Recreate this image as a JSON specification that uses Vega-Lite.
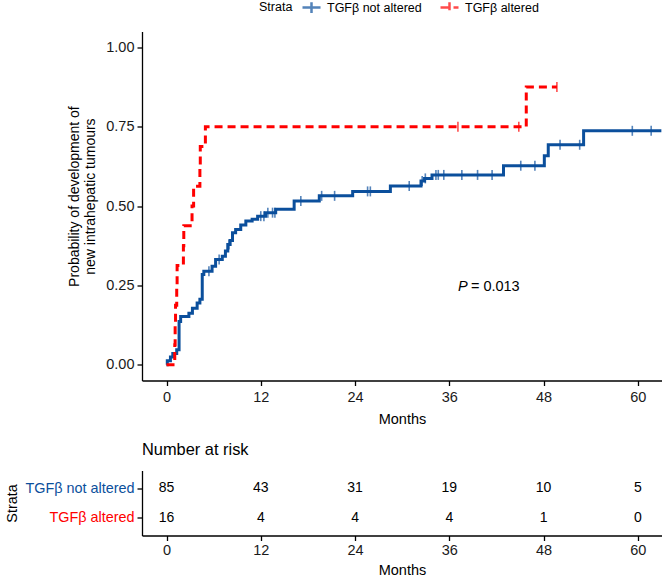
{
  "$schema": "https://vega.github.io/schema/vega-lite/v6.json",
  "padding": {"left": 4, "top": -3.5, "right": 0, "bottom": 0},
  "config": {
    "font": "Liberation Sans",
    "view": {"stroke": null},
    "axis": {"grid": false, "domainColor": "black", "domainWidth": 1.3, "tickColor": "black", "tickWidth": 1.3, "tickSize": 5, "labelColor": "#1a1a1a", "labelFontSize": 14.5, "titleFontSize": 14.5, "titleFontWeight": "normal", "titleColor": "black", "labelPadding": 3, "titlePadding": 8}
  },
  "datasets": {
    "curves": [
      {"group": "TGFβ not altered", "month": 0, "prob": 0},
      {"group": "TGFβ not altered", "month": 0.1, "prob": 0.012},
      {"group": "TGFβ not altered", "month": 0.5, "prob": 0.024},
      {"group": "TGFβ not altered", "month": 0.8, "prob": 0.035},
      {"group": "TGFβ not altered", "month": 1.3, "prob": 0.047},
      {"group": "TGFβ not altered", "month": 1.6, "prob": 0.136},
      {"group": "TGFβ not altered", "month": 1.8, "prob": 0.152},
      {"group": "TGFβ not altered", "month": 2.85, "prob": 0.162},
      {"group": "TGFβ not altered", "month": 3.3, "prob": 0.178},
      {"group": "TGFβ not altered", "month": 3.9, "prob": 0.194},
      {"group": "TGFβ not altered", "month": 4.25, "prob": 0.206},
      {"group": "TGFβ not altered", "month": 4.55, "prob": 0.284},
      {"group": "TGFβ not altered", "month": 4.75, "prob": 0.294},
      {"group": "TGFβ not altered", "month": 5.8, "prob": 0.31},
      {"group": "TGFβ not altered", "month": 6.25, "prob": 0.331},
      {"group": "TGFβ not altered", "month": 7.1, "prob": 0.342},
      {"group": "TGFβ not altered", "month": 7.5, "prob": 0.358},
      {"group": "TGFβ not altered", "month": 7.8, "prob": 0.379},
      {"group": "TGFβ not altered", "month": 8.1, "prob": 0.391},
      {"group": "TGFβ not altered", "month": 8.4, "prob": 0.416},
      {"group": "TGFβ not altered", "month": 8.8, "prob": 0.426},
      {"group": "TGFβ not altered", "month": 9.45, "prob": 0.44},
      {"group": "TGFβ not altered", "month": 10.1, "prob": 0.453},
      {"group": "TGFβ not altered", "month": 10.9, "prob": 0.458},
      {"group": "TGFβ not altered", "month": 11.6, "prob": 0.468},
      {"group": "TGFβ not altered", "month": 12.6, "prob": 0.479},
      {"group": "TGFβ not altered", "month": 13.9, "prob": 0.49},
      {"group": "TGFβ not altered", "month": 16.25, "prob": 0.516},
      {"group": "TGFβ not altered", "month": 19.45, "prob": 0.532},
      {"group": "TGFβ not altered", "month": 23.7, "prob": 0.546},
      {"group": "TGFβ not altered", "month": 28.5, "prob": 0.563},
      {"group": "TGFβ not altered", "month": 32.4, "prob": 0.579},
      {"group": "TGFβ not altered", "month": 32.85, "prob": 0.587},
      {"group": "TGFβ not altered", "month": 33.8, "prob": 0.598},
      {"group": "TGFβ not altered", "month": 42.9, "prob": 0.627},
      {"group": "TGFβ not altered", "month": 48.1, "prob": 0.658},
      {"group": "TGFβ not altered", "month": 48.6, "prob": 0.693},
      {"group": "TGFβ not altered", "month": 53.1, "prob": 0.737},
      {"group": "TGFβ not altered", "month": 63.0, "prob": 0.737},
      {"group": "TGFβ altered", "month": 0, "prob": 0},
      {"group": "TGFβ altered", "month": 1.05, "prob": 0.0625},
      {"group": "TGFβ altered", "month": 1.1, "prob": 0.125},
      {"group": "TGFβ altered", "month": 1.15, "prob": 0.1875},
      {"group": "TGFβ altered", "month": 1.3, "prob": 0.25},
      {"group": "TGFβ altered", "month": 1.35, "prob": 0.3125},
      {"group": "TGFβ altered", "month": 2.15, "prob": 0.375},
      {"group": "TGFβ altered", "month": 2.2, "prob": 0.4375},
      {"group": "TGFβ altered", "month": 3.25, "prob": 0.5},
      {"group": "TGFβ altered", "month": 3.45, "prob": 0.5625},
      {"group": "TGFβ altered", "month": 4.25, "prob": 0.625},
      {"group": "TGFβ altered", "month": 4.3, "prob": 0.6875},
      {"group": "TGFβ altered", "month": 4.95, "prob": 0.75},
      {"group": "TGFβ altered", "month": 45.8, "prob": 0.875},
      {"group": "TGFβ altered", "month": 49.7, "prob": 0.875}
    ],
    "censor": [
      {"group": "TGFβ not altered", "month": 5.4, "prob": 0.294},
      {"group": "TGFβ not altered", "month": 6.7, "prob": 0.331},
      {"group": "TGFβ not altered", "month": 7.95, "prob": 0.379},
      {"group": "TGFβ not altered", "month": 12.0, "prob": 0.468},
      {"group": "TGFβ not altered", "month": 12.4, "prob": 0.468},
      {"group": "TGFβ not altered", "month": 12.9, "prob": 0.479},
      {"group": "TGFβ not altered", "month": 13.5, "prob": 0.479},
      {"group": "TGFβ not altered", "month": 13.8, "prob": 0.479},
      {"group": "TGFβ not altered", "month": 17.1, "prob": 0.516},
      {"group": "TGFβ not altered", "month": 19.75, "prob": 0.532},
      {"group": "TGFβ not altered", "month": 21.4, "prob": 0.532},
      {"group": "TGFβ not altered", "month": 25.6, "prob": 0.546},
      {"group": "TGFβ not altered", "month": 25.95, "prob": 0.546},
      {"group": "TGFβ not altered", "month": 30.9, "prob": 0.563},
      {"group": "TGFβ not altered", "month": 32.55, "prob": 0.579},
      {"group": "TGFβ not altered", "month": 32.95, "prob": 0.587},
      {"group": "TGFβ not altered", "month": 34.3, "prob": 0.598},
      {"group": "TGFβ not altered", "month": 34.6, "prob": 0.598},
      {"group": "TGFβ not altered", "month": 35.3, "prob": 0.598},
      {"group": "TGFβ not altered", "month": 37.6, "prob": 0.598},
      {"group": "TGFβ not altered", "month": 39.6, "prob": 0.598},
      {"group": "TGFβ not altered", "month": 41.45, "prob": 0.598},
      {"group": "TGFβ not altered", "month": 45.1, "prob": 0.627},
      {"group": "TGFβ not altered", "month": 46.9, "prob": 0.627},
      {"group": "TGFβ not altered", "month": 50.1, "prob": 0.693},
      {"group": "TGFβ not altered", "month": 52.6, "prob": 0.693},
      {"group": "TGFβ not altered", "month": 59.3, "prob": 0.737},
      {"group": "TGFβ not altered", "month": 61.7, "prob": 0.737},
      {"group": "TGFβ altered", "month": 37.1, "prob": 0.75},
      {"group": "TGFβ altered", "month": 44.85, "prob": 0.75},
      {"group": "TGFβ altered", "month": 49.7, "prob": 0.875}
    ],
    "risk": [
      {"group": "TGFβ not altered", "month": 0, "n": 85},
      {"group": "TGFβ not altered", "month": 12, "n": 43},
      {"group": "TGFβ not altered", "month": 24, "n": 31},
      {"group": "TGFβ not altered", "month": 36, "n": 19},
      {"group": "TGFβ not altered", "month": 48, "n": 10},
      {"group": "TGFβ not altered", "month": 60, "n": 5},
      {"group": "TGFβ altered", "month": 0, "n": 16},
      {"group": "TGFβ altered", "month": 12, "n": 4},
      {"group": "TGFβ altered", "month": 24, "n": 4},
      {"group": "TGFβ altered", "month": 36, "n": 4},
      {"group": "TGFβ altered", "month": 48, "n": 1},
      {"group": "TGFβ altered", "month": 60, "n": 0}
    ]
  },
  "vconcat": [
    {
      "width": 520,
      "height": 349,
      "layer": [
        {
          "data": {"name": "curves"},
          "mark": {"type": "line", "interpolate": "step-after", "strokeWidth": 3},
          "encoding": {
            "x": {"field": "month", "type": "quantitative", "scale": {"domain": [-3.12, 63.08], "nice": false, "zero": false}, "axis": {"values": [0, 12, 24, 36, 48, 60], "title": "Months", "labelPadding": 5}},
            "y": {"field": "prob", "type": "quantitative", "scale": {"domain": [-0.05, 1.05], "nice": false, "zero": false}, "axis": {"values": [0, 0.25, 0.5, 0.75, 1], "format": ".2f", "labelPadding": 3, "title": ["Probability of development of", "new intrahepatic tumours"], "titleFontSize": 14, "titlePadding": 8, "titleY": 164.6}},
            "color": {"field": "group", "type": "nominal", "scale": {"domain": ["TGFβ not altered", "TGFβ altered"], "range": ["#0b4f9c", "#ff0000"]},
              "legend": {"orient": "none", "legendX": 117, "legendY": -34.5, "direction": "horizontal", "title": "Strata", "titleOrient": "left", "titleFontSize": 12.5, "titleFontWeight": "normal", "titleColor": "black", "titlePadding": 8, "labelFontSize": 12.5, "labelColor": "black", "labelOffset": 5, "columnPadding": 13, "symbolType": "M-1,0H1M0,-0.6V0.6", "symbolSize": 324, "symbolStrokeWidth": 2.5}},
            "strokeDash": {"field": "group", "type": "nominal", "scale": {"domain": ["TGFβ not altered", "TGFβ altered"], "range": [[1, 0], [8, 5]]}, "legend": null}
          }
        },
        {
          "data": {"name": "censor"},
          "mark": {"type": "tick", "orient": "vertical", "size": 10, "thickness": 1.6},
          "encoding": {
            "x": {"field": "month", "type": "quantitative"},
            "y": {"field": "prob", "type": "quantitative"},
            "color": {"field": "group", "type": "nominal"}
          }
        },
        {
          "data": {"values": [{}]},
          "mark": {"type": "text", "fontStyle": "italic", "align": "left", "baseline": "middle", "fontSize": 14.5, "color": "black"},
          "encoding": {"x": {"datum": 37.1, "type": "quantitative"}, "y": {"datum": 0.244, "type": "quantitative"}, "text": {"value": "P"}}
        },
        {
          "data": {"values": [{}]},
          "mark": {"type": "text", "align": "left", "baseline": "middle", "fontSize": 14.5, "color": "black"},
          "encoding": {"x": {"datum": 38.75, "type": "quantitative"}, "y": {"datum": 0.244, "type": "quantitative"}, "text": {"value": "= 0.013"}}
        }
      ]
    },
    {
      "width": 520,
      "height": 65,
      "title": {"text": "Number at risk", "anchor": "start", "frame": "group", "fontSize": 16.4, "fontWeight": "normal", "color": "black", "offset": 11.7},
      "data": {"name": "risk"},
      "mark": {"type": "text", "fontSize": 14, "color": "black"},
      "encoding": {
        "x": {"field": "month", "type": "quantitative", "scale": {"domain": [-3.12, 63.08], "nice": false, "zero": false}, "axis": {"values": [0, 12, 24, 36, 48, 60], "title": "Months", "titlePadding": 6}},
        "y": {"field": "group", "type": "nominal", "sort": ["TGFβ not altered", "TGFβ altered"], "scale": {"type": "point", "padding": 0.6},
          "axis": {"title": "Strata", "labelFontSize": 14.4, "titleFontSize": 14.4, "labelPadding": 3, "titlePadding": 5, "labelColor": {"condition": {"test": "datum.value == 'TGFβ altered'", "value": "#ff0000"}, "value": "#0b4f9c"}}},
        "text": {"field": "n", "type": "quantitative"}
      }
    }
  ],
  "spacing": 16
}
